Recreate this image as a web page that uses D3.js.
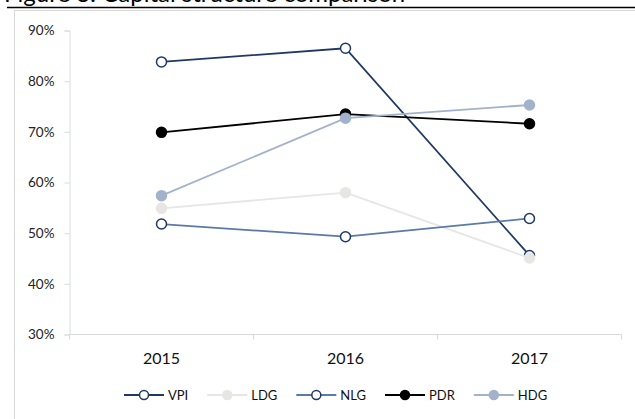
<!DOCTYPE html>
<html lang="en">
<head>
<meta charset="UTF-8">
<title>Capital structure comparison</title>
<script src="https://d3js.org/d3.v7.min.js"></script>
<style>
    body { margin: 0; background: #fff; }
    svg { display: block; font-family: Lato, "Open Sans", sans-serif; }
</style>
</head>
<body>
<div id="chart"></div>
<script>
    const width = 635, height = 419;

    // data (ratio in %)
    const years = ["2015", "2016", "2017"];
    const yTicks = [30, 40, 50, 60, 70, 80, 90];
    const VPI = [83.8, 86.5, 45.6];
    const LDG = [54.9, 58.0, 45.1];
    const NLG = [51.8, 49.3, 52.9];
    const PDR = [69.9, 73.5, 71.6];
    const HDG = [57.4, 72.7, 75.3];

    const series = [
        { name: "VPI", values: VPI, line: "#1f3864", stroke: "#1f3864", fill: "#fff" },
        { name: "LDG", values: LDG, line: "#e7e6e3", stroke: "#e7e6e3", fill: "#e7e6e3" },
        { name: "NLG", values: NLG, line: "#5a7aa8", stroke: "#1f3864", fill: "#fff" },
        { name: "PDR", values: PDR, line: "#000000", stroke: "#000000", fill: "#000000" },
        { name: "HDG", values: HDG, line: "#a3b2cc", stroke: "#a3b2cc", fill: "#a3b2cc" }
    ];

    const svg = d3.select("#chart").append("svg")
        .attr("width", width).attr("height", height);

    // caption above the frame, cut by the top edge as in the source
    svg.append("text")
        .attr("x", 4).attr("y", 2)
        .style("font-size", "24px")
        .style("fill", "#000")
        .text("Figure 3: Capital structure comparison");
    svg.append("line")
        .attr("x1", 7).attr("x2", width).attr("y1", 7.5).attr("y2", 7.5)
        .attr("stroke", "#000").attr("stroke-width", 1.5);

    // chart frame
    svg.append("rect")
        .attr("x", 14.5).attr("y", 10.5)
        .attr("width", 700).attr("height", 500)
        .attr("fill", "#fff").attr("stroke", "#d9d9d9");

    const x = d3.scaleBand().domain(years).range([69.5, 621.5]).padding(0);
    const y = d3.scaleLinear().domain([30, 90]).range([334.5, 30.5]);

    // y axis
    const yAxis = svg.append("g")
        .attr("transform", `translate(${x.range()[0]},0)`)
        .call(d3.axisLeft(y).tickValues(yTicks).tickSize(5).tickPadding(10)
            .tickFormat(d => d + "%"));
    yAxis.select(".domain").attr("stroke", "#d6dce5");
    yAxis.selectAll(".tick line").attr("stroke", "#d6dce5");
    yAxis.selectAll(".tick text")
        .style("font-family", "Lato, sans-serif")
        .style("font-size", "13.5px").attr("fill", "#222");

    // x axis: ticks sit between categories
    const xAxis = svg.append("g").attr("transform", `translate(0,${y(30)})`);
    xAxis.append("line")
        .attr("x1", x.range()[0]).attr("x2", x.range()[1])
        .attr("stroke", "#d9d9d9");
    const bounds = years.map(d => x(d)).concat([x(years[years.length - 1]) + x.bandwidth()]);
    xAxis.selectAll(".xt").data(bounds).enter().append("line")
        .attr("x1", d => d).attr("x2", d => d)
        .attr("y1", 0).attr("y2", 5)
        .attr("stroke", "#d9d9d9");
    xAxis.selectAll(".xl").data(years).enter().append("text")
        .attr("x", d => x(d) + x.bandwidth() / 2)
        .attr("y", 29)
        .attr("text-anchor", "middle")
        .style("font-size", "16px").attr("fill", "#111")
        .text(d => d);

    const cx = i => x(years[i]) + x.bandwidth() / 2;
    const line = d3.line().x((d, i) => cx(i)).y(d => y(d));

    series.forEach(s => {
        const g = svg.append("g");
        g.append("path")
            .datum(s.values)
            .attr("d", line)
            .attr("fill", "none")
            .attr("stroke", s.line)
            .attr("stroke-width", 1.8);
        g.selectAll("circle").data(s.values).enter().append("circle")
            .attr("cx", (d, i) => cx(i))
            .attr("cy", d => y(d))
            .attr("r", 5)
            .attr("fill", s.fill)
            .attr("stroke", s.stroke)
            .attr("stroke-width", 1.5);
    });

    // legend
    const legend = svg.append("g").attr("transform", "translate(124,395)");
    let lx = 0;
    series.forEach(s => {
        const item = legend.append("g").attr("transform", `translate(${lx},0)`);
        item.append("line")
            .attr("x1", 0).attr("x2", 40)
            .attr("stroke", s.line).attr("stroke-width", 1.8);
        item.append("circle")
            .attr("cx", 20).attr("r", 4.5)
            .attr("fill", s.fill).attr("stroke", s.stroke).attr("stroke-width", 1.5);
        const t = item.append("text")
            .attr("x", 44).attr("dy", "0.35em")
            .style("font-size", "13px").attr("fill", "#111")
            .text(s.name);
        lx += 44 + t.node().getComputedTextLength() + 19;
    });
</script>
</body>
</html>
